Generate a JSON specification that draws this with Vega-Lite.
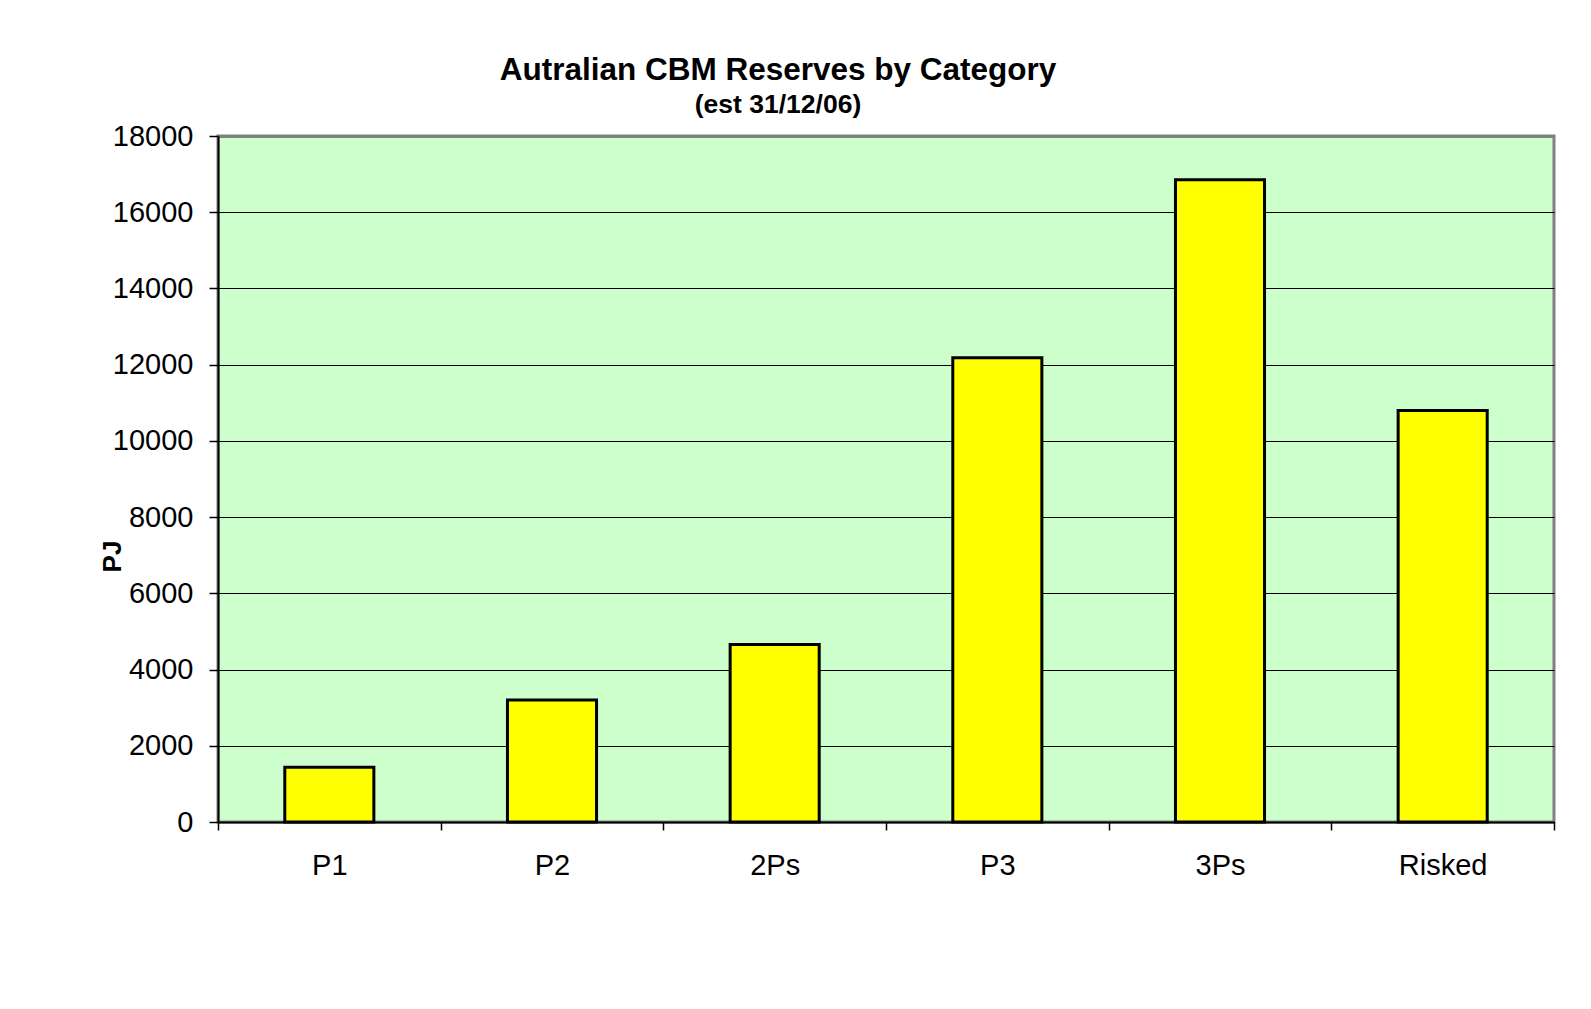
{
  "$schema": "https://vega.github.io/schema/vega-lite/v6.json",
  "width": 1336,
  "height": 686,
  "autosize": {"type": "none"},
  "padding": {"left": 218, "top": 136, "right": 37, "bottom": 187},
  "background": "white",
  "title": {
    "text": "Autralian CBM Reserves by Category",
    "subtitle": "(est 31/12/06)",
    "font": "Liberation Sans",
    "fontSize": 31.5,
    "fontWeight": "bold",
    "color": "black",
    "subtitleFont": "Liberation Sans",
    "subtitleFontSize": 26.5,
    "subtitleFontWeight": "bold",
    "subtitleColor": "black",
    "subtitlePadding": 5,
    "anchor": "middle",
    "dx": -108,
    "offset": 4
  },
  "data": {
    "values": [
      {"category": "P1", "PJ": 1435},
      {"category": "P2", "PJ": 3200},
      {"category": "2Ps", "PJ": 4655},
      {"category": "P3", "PJ": 12180},
      {"category": "3Ps", "PJ": 16850},
      {"category": "Risked", "PJ": 10795}
    ]
  },
  "mark": {"type": "bar", "fill": "#FFFF00", "stroke": "black", "strokeWidth": 3, "width": {"band": 0.4}},
  "encoding": {
    "x": {
      "field": "category",
      "type": "nominal",
      "sort": null,
      "scale": {"paddingInner": 0, "paddingOuter": 0},
      "axis": {
        "title": null,
        "labelAngle": 0,
        "tickBand": "extent",
        "tickSize": 8,
        "tickColor": "black",
        "tickWidth": 1.5,
        "domainColor": "black",
        "domainWidth": 2,
        "labelFont": "Liberation Sans",
        "labelFontSize": 29,
        "labelColor": "black",
        "labelPadding": 21
      }
    },
    "y": {
      "field": "PJ",
      "type": "quantitative",
      "scale": {"domain": [0, 18000], "nice": false},
      "axis": {
        "title": "PJ",
        "values": [0, 2000, 4000, 6000, 8000, 10000, 12000, 14000, 16000, 18000],
        "format": "d",
        "grid": true,
        "gridColor": {"condition": {"test": "datum.value === 18000", "value": "#808080"}, "value": "black"},
        "gridWidth": {"condition": {"test": "datum.value === 18000", "value": 3}, "value": 1.2},
        "gridOpacity": 1,
        "domainColor": "black",
        "domainWidth": 2,
        "tickColor": "black",
        "tickSize": 9,
        "tickWidth": 1.5,
        "labelFont": "Liberation Sans",
        "labelFontSize": 29,
        "labelColor": "black",
        "labelPadding": 16,
        "titleFont": "Liberation Sans",
        "titleFontSize": 26,
        "titleFontWeight": "bold",
        "titleColor": "black",
        "titleX": -106,
        "titleY": 420,
        "titleAngle": 270,
        "titleAlign": "center",
        "titleBaseline": "middle"
      }
    }
  },
  "config": {"view": {"fill": "#CCFFCC", "stroke": "#808080", "strokeWidth": 3}}
}
